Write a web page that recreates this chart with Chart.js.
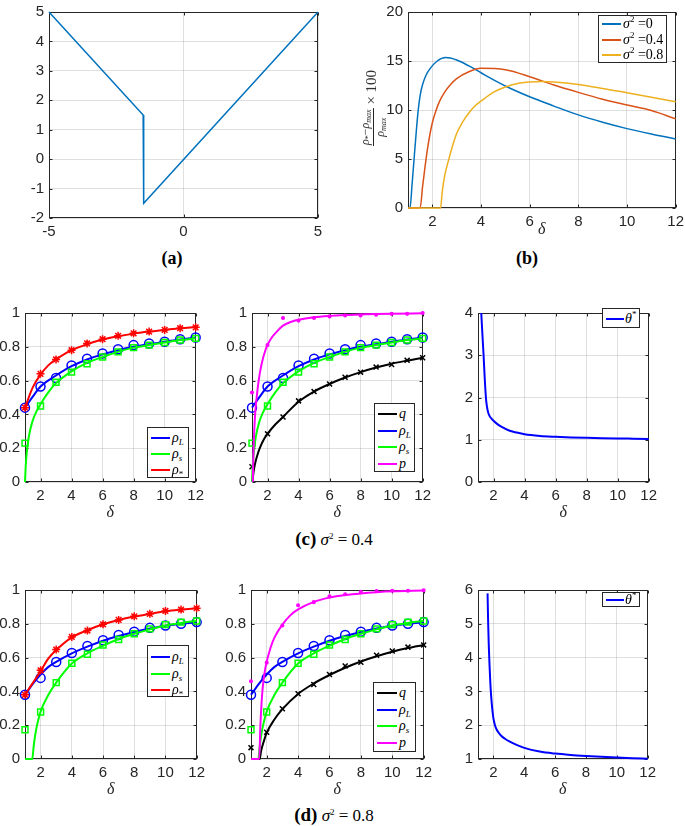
<!DOCTYPE html>
<html><head><meta charset="utf-8">
<script src="https://cdn.jsdelivr.net/npm/chart.js@4.4.1/dist/chart.umd.min.js"></script>
<style>
html,body{margin:0;padding:0;background:#fff;}
body{width:685px;height:826px;position:relative;overflow:hidden;font-family:"Liberation Serif","DejaVu Serif",serif;}
.pn{position:absolute;}
.pn canvas{display:block;}
.lg{position:absolute;background:#fff;border:1px solid #262626;box-sizing:border-box;font-family:"Liberation Serif",serif;font-size:14px;color:#000;}
.lg .row{position:absolute;left:0;right:0;height:16px;line-height:16px;white-space:nowrap;}
.lg .sw{position:absolute;top:7px;height:0;border-top:2px solid;}
.lg .tx{position:absolute;top:0;}
sub,sup{font-size:9px;line-height:0;}
sub{vertical-align:-3px;}
sup{vertical-align:6px;}
.cap{position:absolute;transform:translate(-50%,-50%);white-space:nowrap;font-family:"Liberation Serif",serif;color:#000;}
.ylab{position:absolute;transform:translate(-50%,-50%) rotate(-90deg);white-space:nowrap;font-family:"Liberation Serif",serif;color:#262626;font-size:15px;}
.frac{display:inline-block;vertical-align:middle;text-align:center;font-size:12px;line-height:13px;}
.frac .nu{display:block;border-bottom:1px solid #262626;padding:0 1px 1px 1px;}
.frac .de{display:block;}
.frac sub{font-size:8px;vertical-align:-2px;}
</style>
</head><body>
<script>
// ---------- Panel (a) ----------
const aX = [-5, -1.5, -1.48, 5];
const aY = [5, 1.5, -1.5, 5];
const aXTicks = [-5, 0, 5];
const aYTicks = [-2, -1, 0, 1, 2, 3, 4, 5];

// ---------- Panel (b) ----------
const bDelta0 = [1, 1.08, 1.17, 1.25, 1.33, 1.42, 1.5, 1.6, 1.75, 1.9, 2.2, 2.55, 3, 3.5, 4, 4.5, 5, 6, 7, 8, 9, 10, 11, 12];
const bGain0 = [0, 0, 2.5, 5, 7.5, 10, 11.5, 12.6, 13.6, 14.2, 15, 15.35, 15.1, 14.5, 13.8, 13.1, 12.45, 11.35, 10.4, 9.5, 8.75, 8.1, 7.55, 7.05];
const bDelta04 = [1, 1.5, 1.6, 1.7, 1.8, 1.9, 2, 2.13, 2.3, 2.5, 2.75, 3, 3.5, 4, 5, 6, 7, 8, 9, 10, 11, 12];
const bGain04 = [0, 0, 2.2, 4.2, 6, 7.5, 8.7, 9.8, 10.9, 11.8, 12.6, 13.2, 13.9, 14.25, 14.1, 13.4, 12.55, 11.8, 11.1, 10.5, 9.95, 9.1];
const bDelta08 = [1, 2.34, 2.4, 2.5, 2.68, 2.85, 3, 3.25, 3.5, 3.75, 4, 4.5, 5, 5.5, 6, 6.5, 7, 8, 9, 10, 11, 12];
const bGain08 = [0, 0, 1.5, 3.2, 5, 6.5, 7.6, 8.8, 9.7, 10.4, 10.9, 11.8, 12.35, 12.7, 12.85, 12.9, 12.85, 12.6, 12.2, 11.75, 11.3, 10.85];
const bXTicks = [2, 4, 6, 8, 10, 12];
const bYTicks = [0, 5, 10, 15, 20];

// ---------- Shared δ axis ----------
const deltaMarks = [1, 2, 3, 4, 5, 6, 7, 8, 9, 10, 11, 12];
const deltaTicks = [2, 4, 6, 8, 10, 12];
const rhoTicks = [0, 0.2, 0.4, 0.6, 0.8, 1];

// ---------- Panel (c) σ² = 0.4 ----------
const cRhoStarMk = [0.44, 0.64, 0.725, 0.78, 0.82, 0.845, 0.865, 0.88, 0.89, 0.90, 0.91, 0.915];
const cRhoLMk = [0.44, 0.565, 0.615, 0.69, 0.73, 0.76, 0.785, 0.81, 0.82, 0.83, 0.845, 0.855];
const cRhoSMk = [0.23, 0.45, 0.59, 0.65, 0.70, 0.74, 0.77, 0.795, 0.81, 0.825, 0.84, 0.85];
const cQMk = [0.09, 0.285, 0.385, 0.48, 0.535, 0.58, 0.62, 0.65, 0.68, 0.695, 0.72, 0.735];
const cPMk = [0.53, 0.81, 0.97, 0.955, 0.97, 0.98, 0.985, 0.985, 0.99, 0.995, 0.995, 1.0];

const cRhoStarX = [1, 1.5, 2, 2.5, 3, 4, 5, 6, 7, 8, 9, 10, 11, 12];
const cRhoStarY = [0.44, 0.56, 0.635, 0.69, 0.725, 0.78, 0.815, 0.843, 0.862, 0.878, 0.89, 0.90, 0.91, 0.917];
const cRhoLX = [1, 1.5, 2, 3, 4, 5, 6, 7, 8, 9, 10, 11, 12];
const cRhoLY = [0.44, 0.505, 0.565, 0.63, 0.685, 0.725, 0.755, 0.78, 0.80, 0.815, 0.83, 0.843, 0.855];
const cRhoSX = [1, 1.05, 1.12, 1.25, 1.45, 1.7, 2, 2.5, 3, 4, 5, 6, 7, 8, 9, 10, 11, 12];
const cRhoSY = [0, 0.1, 0.18, 0.27, 0.35, 0.41, 0.46, 0.53, 0.585, 0.655, 0.705, 0.74, 0.77, 0.795, 0.81, 0.825, 0.84, 0.85];
const cQX = [1.03, 1.1, 1.2, 1.35, 1.5, 1.75, 2, 2.5, 3, 4, 5, 6, 7, 8, 9, 10, 11, 12];
const cQY = [0, 0.06, 0.11, 0.16, 0.2, 0.25, 0.285, 0.34, 0.385, 0.475, 0.535, 0.58, 0.618, 0.65, 0.677, 0.7, 0.718, 0.735];
const cPX = [1.05, 1.1, 1.2, 1.3, 1.43, 1.6, 1.9, 2.2, 2.6, 3, 3.5, 4, 5, 6, 7, 8, 9, 10, 12];
const cPY = [0, 0.2, 0.4, 0.5, 0.6, 0.69, 0.79, 0.845, 0.89, 0.925, 0.947, 0.96, 0.975, 0.983, 0.988, 0.991, 0.994, 0.996, 0.998];
const cThetaX = [1.21, 1.29, 1.36, 1.43, 1.51, 1.57, 1.65, 1.75, 1.87, 2, 2.25, 2.5, 3, 3.5, 4, 5, 6, 7, 8, 9, 10, 11, 12];
const cThetaY = [4, 3.45, 3.0, 2.48, 2.0, 1.8, 1.65, 1.56, 1.5, 1.45, 1.37, 1.31, 1.22, 1.17, 1.13, 1.09, 1.07, 1.055, 1.045, 1.037, 1.03, 1.025, 1.02];
const cThetaTicks = [0, 1, 2, 3, 4];

// ---------- Panel (d) σ² = 0.8 ----------
const dRhoStarMk = [0.38, 0.525, 0.648, 0.722, 0.76, 0.797, 0.823, 0.844, 0.859, 0.876, 0.884, 0.892];
const dRhoLMk = [0.38, 0.48, 0.574, 0.627, 0.669, 0.703, 0.734, 0.753, 0.776, 0.79, 0.80, 0.81];
const dRhoSMk = [0.173, 0.278, 0.452, 0.567, 0.62, 0.675, 0.707, 0.741, 0.77, 0.795, 0.81, 0.817];
const dQMk = [0.067, 0.158, 0.297, 0.386, 0.441, 0.5, 0.551, 0.572, 0.614, 0.639, 0.662, 0.675];
const dPMk = [0.46, 0.57, 0.79, 0.91, 0.928, 0.962, 0.975, 0.989, 0.994, 0.996, 0.996, 0.998];

const dRhoStarX = [1, 1.5, 2, 2.5, 3, 4, 5, 6, 7, 8, 9, 10, 11, 12];
const dRhoStarY = [0.38, 0.45, 0.52, 0.595, 0.645, 0.72, 0.762, 0.797, 0.823, 0.843, 0.859, 0.874, 0.884, 0.892];
const dRhoLX = [1, 1.5, 2, 2.5, 3, 4, 5, 6, 7, 8, 9, 10, 11, 12];
const dRhoLY = [0.38, 0.445, 0.5, 0.545, 0.575, 0.625, 0.665, 0.70, 0.728, 0.752, 0.772, 0.789, 0.80, 0.81];
const dRhoSX = [1, 1.47, 1.55, 1.65, 1.75, 2, 2.5, 3, 4, 5, 6, 7, 8, 9, 10, 11, 12];
const dRhoSY = [0, 0, 0.07, 0.14, 0.19, 0.28, 0.38, 0.452, 0.565, 0.625, 0.67, 0.71, 0.741, 0.767, 0.79, 0.805, 0.817];
const dQX = [1, 1.55, 1.65, 1.8, 2, 2.5, 3, 4, 5, 6, 7, 8, 9, 10, 11, 12];
const dQY = [0, 0, 0.05, 0.1, 0.155, 0.235, 0.295, 0.385, 0.447, 0.497, 0.54, 0.577, 0.608, 0.635, 0.657, 0.675];
const dPX = [1, 1.52, 1.6, 1.7, 1.8, 1.9, 2, 2.25, 2.5, 3, 3.5, 4, 5, 6, 7, 8, 9, 10, 12];
const dPY = [0, 0, 0.2, 0.37, 0.47, 0.53, 0.575, 0.66, 0.72, 0.795, 0.85, 0.885, 0.93, 0.955, 0.97, 0.98, 0.987, 0.992, 0.997];
const dThetaX = [1.62, 1.66, 1.7, 1.75, 1.8, 1.85, 1.9, 1.95, 2.0, 2.1, 2.2, 2.35, 2.5, 2.75, 3, 3.5, 4, 5, 6, 7, 8, 9, 10, 11, 12];
const dThetaY = [5.9, 5.0, 4.35, 3.75, 3.25, 2.88, 2.6, 2.38, 2.2, 2.0, 1.88, 1.77, 1.69, 1.6, 1.53, 1.42, 1.33, 1.22, 1.16, 1.12, 1.09, 1.065, 1.045, 1.025, 1.01];
const dThetaTicks = [1, 2, 3, 4, 5, 6];

// ---------- Styles ----------
const GRID = 'rgba(38,38,38,0.15)';
const AXC = '#262626';
const BLUE = '#0000ff', GREEN = '#00ff00', RED = '#ff0000', MAG = '#ff00ff', BLK = '#000000';
const M1 = '#0072BD', M2 = '#D95319', M3 = '#EDB120';

function pts(xs, ys) { return xs.map((x, i) => ({x: x, y: ys[i]})); }
function line(xs, ys, color, w, straight) {
  const d = {data: pts(xs, ys), showLine: true, borderColor: color, backgroundColor: color, borderWidth: w,
    pointRadius: 0, pointHoverRadius: 0, fill: false, clip: 2};
  if (straight) d.tension = 0; else d.cubicInterpolationMode = 'monotone';
  return d;
}
function marks(xs, ys, color, style, r, filled) {
  return {data: pts(xs, ys), showLine: false, pointStyle: style, pointRadius: r, pointHoverRadius: r,
    pointBorderColor: color, pointBackgroundColor: filled ? color : 'rgba(0,0,0,0)', pointBorderWidth: 1.5,
    borderColor: color, clip: false};
}

const boxPlugin = {
  id: 'matlabBox',
  beforeDatasetsDraw(chart) {
    const {ctx, chartArea: a, scales} = chart;
    ctx.save();
    ctx.strokeStyle = AXC; ctx.lineWidth = 1;
    const L = Math.round(a.left) + 0.5, T = Math.round(a.top) + 0.5, R = Math.round(a.right) - 0.5, B = Math.round(a.bottom) - 0.5;
    ctx.beginPath();
    scales.x.ticks.forEach(t => { const px = Math.round(scales.x.getPixelForValue(t.value)) + 0.5;
      ctx.moveTo(px, B); ctx.lineTo(px, B - 3); ctx.moveTo(px, T); ctx.lineTo(px, T + 3); });
    scales.y.ticks.forEach(t => { const py = Math.round(scales.y.getPixelForValue(t.value)) + 0.5;
      ctx.moveTo(L, py); ctx.lineTo(L + 3, py); ctx.moveTo(R, py); ctx.lineTo(R - 3, py); });
    ctx.stroke();
    ctx.strokeRect(L, T, R - L, B - T);
    ctx.restore();
  }
};

function makePanel(rect, cfg) {
  const PL = Math.min(40, rect.l), PT = 8, PR = 12, PB = cfg.pb;
  const W = rect.r - rect.l + PL + PR, H = rect.b - rect.t + PT + PB;
  const div = document.createElement('div'); div.className = 'pn';
  div.style.left = (rect.l - PL) + 'px'; div.style.top = (rect.t - PT) + 'px';
  div.style.width = W + 'px'; div.style.height = H + 'px';
  const cv = document.createElement('canvas'); cv.width = W; cv.height = H;
  cv.style.width = W + 'px'; cv.style.height = H + 'px';
  div.appendChild(cv); document.body.appendChild(div);
  const tickFont = {family: '"Liberation Sans", Arial, sans-serif', size: 15};
  new Chart(cv, {
    type: 'scatter',
    data: {datasets: cfg.datasets},
    options: {
      responsive: false, animation: false, devicePixelRatio: 1,
      events: [],
      layout: {padding: {left: 0, top: PT, right: PR, bottom: 0}},
      plugins: {legend: {display: false}, tooltip: {enabled: false}},
      scales: {
        x: {type: 'linear', min: cfg.xmin, max: cfg.xmax,
          afterFit: s => { s.height = PB; },
          afterBuildTicks: s => { s.ticks = cfg.xt.map(v => ({value: v})); },
          grid: {color: GRID, drawTicks: false, lineWidth: 1},
          border: {display: false},
          ticks: {padding: 5, color: AXC, font: tickFont, maxRotation: 0, autoSkip: false, callback: v => String(v)},
          title: cfg.xtitle ? {display: true, text: 'δ', color: AXC, padding: 0,
            font: {family: '"Liberation Serif", serif', style: 'italic', size: 16}} : {display: false}
        },
        y: {type: 'linear', min: cfg.ymin, max: cfg.ymax,
          afterFit: s => { s.width = PL; },
          afterBuildTicks: s => { s.ticks = cfg.yt.map(v => ({value: v})); },
          grid: {color: GRID, drawTicks: false, lineWidth: 1},
          border: {display: false},
          ticks: {padding: 5, color: AXC, font: tickFont, autoSkip: false, callback: v => String(v)}
        }
      }
    },
    plugins: [boxPlugin]
  });
}

function legend(x, y, w, h, first, step, sw, rows) {
  const d = document.createElement('div'); d.className = 'lg';
  d.style.left = x + 'px'; d.style.top = y + 'px'; d.style.width = w + 'px'; d.style.height = h + 'px';
  rows.forEach((r, i) => {
    const row = document.createElement('div'); row.className = 'row';
    row.style.top = (first + i * step - 8) + 'px';
    row.innerHTML = '<span class="sw" style="left:' + sw[0] + 'px;width:' + sw[1] + 'px;border-color:' + r[0] + '"></span>' +
      '<span class="tx" style="left:' + sw[2] + 'px">' + r[1] + '</span>';
    d.appendChild(row);
  });
  document.body.appendChild(d);
}
function caption(x, y, html, size) {
  const d = document.createElement('div'); d.className = 'cap';
  d.style.left = x + 'px'; d.style.top = y + 'px'; d.style.fontSize = size + 'px';
  d.innerHTML = html; document.body.appendChild(d);
}

const L_RHOL = '<i>ρ</i><sub><i>L</i></sub>';
const L_RHOS = '<i>ρ</i><sub><i>s</i></sub>';
const L_RHOSTAR = '<i>ρ</i><sub>*</sub>';
const L_Q = '<i>q</i>', L_P = '<i>p</i>';
const L_THETA = '<i>θ</i><sup>*</sup>';

// (a)
makePanel({l: 49, t: 6, r: 318, b: 218}, {pb: 25, xmin: -5, xmax: 5, ymin: -2, ymax: 5, xt: aXTicks, yt: aYTicks, xtitle: false,
  datasets: [line(aX, aY, M1, 1.5, true)]});
caption(172, 258, '<b>(a)</b>', 18);

// (b)
makePanel({l: 408, t: 6, r: 677, b: 208}, {pb: 31, xmin: 1, xmax: 12, ymin: 0, ymax: 20, xt: bXTicks, yt: bYTicks, xtitle: true,
  datasets: [line(bDelta08, bGain08, M3, 1.5), line(bDelta04, bGain04, M2, 1.5), line(bDelta0, bGain0, M1, 1.5)]});
legend(598, 15, 69, 48, 8, 15.5, [3, 19, 24], [[M1, '<i>σ</i><sup>2</sup> =0'], [M2, '<i>σ</i><sup>2</sup> =0.4'], [M3, '<i>σ</i><sup>2</sup> =0.8']]);
(function(){ const d = document.createElement('div'); d.className = 'ylab'; d.style.left = '373px'; d.style.top = '108px';
  d.innerHTML = '<span class="frac"><span class="nu"><i>ρ</i><sub>*</sub>−<i>ρ</i><sub><i>max</i></sub></span><span class="de"><i>ρ</i><sub><i>max</i></sub></span></span> × 100';
  document.body.appendChild(d); })();
caption(527, 258, '<b>(b)</b>', 18);

// (c) left
makePanel({l: 25, t: 307, r: 197, b: 482}, {pb: 40, xmin: 1, xmax: 12, ymin: 0, ymax: 1, xt: deltaTicks, yt: rhoTicks, xtitle: true,
  datasets: [
    marks(deltaMarks, cRhoStarMk, RED, 'star', 4), line(cRhoStarX, cRhoStarY, RED, 2),
    marks(deltaMarks, cRhoSMk, GREEN, 'rect', 4.2), line(cRhoSX, cRhoSY, GREEN, 2),
    marks(deltaMarks, cRhoLMk, BLUE, 'circle', 4.5), line(cRhoLX, cRhoLY, BLUE, 2)
  ]});
legend(147, 427, 42, 51, 10, 16, [3, 19, 24], [[BLUE, L_RHOL], [GREEN, L_RHOS], [RED, L_RHOSTAR]]);

// (c) middle
makePanel({l: 252, t: 307, r: 424, b: 482}, {pb: 40, xmin: 1, xmax: 12, ymin: 0, ymax: 1, xt: deltaTicks, yt: rhoTicks, xtitle: true,
  datasets: [
    marks(deltaMarks, cPMk, MAG, 'circle', 1.3, true), line(cPX, cPY, MAG, 2),
    marks(deltaMarks, cRhoSMk, GREEN, 'rect', 4.2), line(cRhoSX, cRhoSY, GREEN, 2),
    marks(deltaMarks, cRhoLMk, BLUE, 'circle', 4.5), line(cRhoLX, cRhoLY, BLUE, 2),
    marks(deltaMarks, cQMk, BLK, 'crossRot', 3.5), line(cQX, cQY, BLK, 2)
  ]});
legend(374, 403, 41, 69, 10, 16.5, [3, 19, 24], [[BLK, L_Q], [BLUE, L_RHOL], [GREEN, L_RHOS], [MAG, L_P]]);
caption(334, 539, '<b style="font-size:19px">(c)</b> <i>σ</i><sup>2</sup> = 0.4', 17);

// (c) right
makePanel({l: 478, t: 307, r: 650, b: 482}, {pb: 40, xmin: 1, xmax: 12, ymin: 0, ymax: 4, xt: deltaTicks, yt: cThetaTicks, xtitle: true,
  datasets: [line(cThetaX, cThetaY, BLUE, 2)]});
legend(602, 308, 38, 20, 10, 16, [3, 18, 22], [[BLUE, L_THETA]]);

// (d) left
makePanel({l: 25, t: 584, r: 198, b: 759}, {pb: 40, xmin: 1, xmax: 12, ymin: 0, ymax: 1, xt: deltaTicks, yt: rhoTicks, xtitle: true,
  datasets: [
    marks(deltaMarks, dRhoStarMk, RED, 'star', 4), line(dRhoStarX, dRhoStarY, RED, 2),
    marks(deltaMarks, dRhoSMk, GREEN, 'rect', 4.2), line(dRhoSX, dRhoSY, GREEN, 2),
    marks(deltaMarks, dRhoLMk, BLUE, 'circle', 4.5), line(dRhoLX, dRhoLY, BLUE, 2)
  ]});
legend(147, 645, 42, 52, 11, 16.5, [3, 19, 24], [[BLUE, L_RHOL], [GREEN, L_RHOS], [RED, L_RHOSTAR]]);

// (d) middle
makePanel({l: 251, t: 584, r: 425, b: 759}, {pb: 40, xmin: 1, xmax: 12, ymin: 0, ymax: 1, xt: deltaTicks, yt: rhoTicks, xtitle: true,
  datasets: [
    marks(deltaMarks, dPMk, MAG, 'circle', 1.3, true), line(dPX, dPY, MAG, 2),
    marks(deltaMarks, dRhoSMk, GREEN, 'rect', 4.2), line(dRhoSX, dRhoSY, GREEN, 2),
    marks(deltaMarks, dRhoLMk, BLUE, 'circle', 4.5), line(dRhoLX, dRhoLY, BLUE, 2),
    marks(deltaMarks, dQMk, BLK, 'crossRot', 3.5), line(dQX, dQY, BLK, 2)
  ]});
legend(373, 682, 43, 70, 10, 16.5, [3, 20, 25], [[BLK, L_Q], [BLUE, L_RHOL], [GREEN, L_RHOS], [MAG, L_P]]);
caption(334, 815, '<b style="font-size:19px">(d)</b> <i>σ</i><sup>2</sup> = 0.8', 17);

// (d) right
makePanel({l: 478, t: 584, r: 649, b: 759}, {pb: 40, xmin: 1, xmax: 12, ymin: 1, ymax: 6, xt: deltaTicks, yt: dThetaTicks, xtitle: true,
  datasets: [line(dThetaX, dThetaY, BLUE, 2)]});
legend(602, 592, 38, 15, 7, 16, [3, 18, 22], [[BLUE, L_THETA]]);
</script>
</body></html>
